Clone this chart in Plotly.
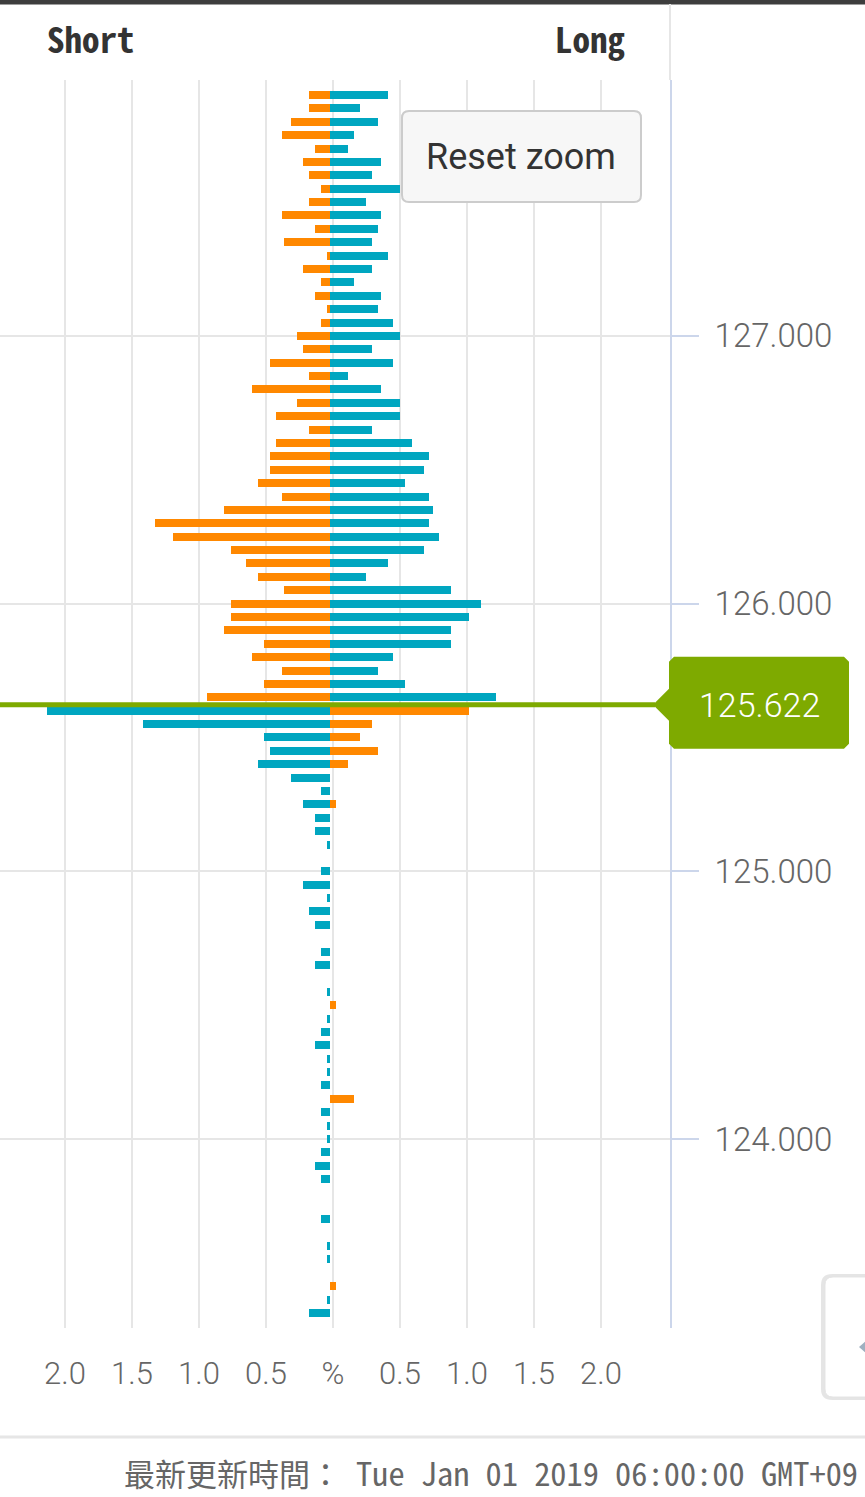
import plotly.graph_objects as go

# price levels (top to bottom) and the share of positions at each level, in %
prices = [127.90, 127.85, 127.80, 127.75, 127.70, 127.65, 127.60, 127.55, 127.50, 127.45,
          127.40, 127.35, 127.30, 127.25, 127.20, 127.15, 127.10, 127.05, 127.00, 126.95,
          126.90, 126.85, 126.80, 126.75, 126.70, 126.65, 126.60, 126.55, 126.50, 126.45,
          126.40, 126.35, 126.30, 126.25, 126.20, 126.15, 126.10, 126.05, 126.00, 125.95,
          125.90, 125.85, 125.80, 125.75, 125.70, 125.65, 125.60, 125.55, 125.50, 125.45,
          125.40, 125.35, 125.30, 125.25, 125.20, 125.15, 125.10, 125.05, 125.00, 124.95,
          124.90, 124.85, 124.80, 124.75, 124.70, 124.65, 124.60, 124.55, 124.50, 124.45,
          124.40, 124.35, 124.30, 124.25, 124.20, 124.15, 124.10, 124.05, 124.00, 123.95,
          123.90, 123.85, 123.80, 123.75, 123.70, 123.65, 123.60, 123.55, 123.50, 123.45,
          123.40, 123.35]

short_pct = [0.16, 0.16, 0.29, 0.36, 0.11, 0.20, 0.16, 0.07, 0.16, 0.36,
             0.11, 0.34, 0.02, 0.20, 0.07, 0.11, 0.02, 0.07, 0.25, 0.20,
             0.45, 0.16, 0.585, 0.25, 0.405, 0.16, 0.405, 0.45, 0.45, 0.54,
             0.36, 0.79, 1.305, 1.17, 0.74, 0.63, 0.54, 0.34, 0.74, 0.74,
             0.79, 0.495, 0.585, 0.36, 0.495, 0.92, 2.115, 1.395, 0.495, 0.45,
             0.54, 0.29, 0.07, 0.20, 0.11, 0.11, 0.02, 0.0, 0.07, 0.20,
             0.02, 0.16, 0.11, 0.0, 0.07, 0.11, 0.0, 0.02, 0.0, 0.02,
             0.07, 0.11, 0.02, 0.02, 0.07, 0.0, 0.07, 0.02, 0.02, 0.07,
             0.11, 0.07, 0.0, 0.0, 0.07, 0.0, 0.02, 0.02, 0.0, 0.0,
             0.02, 0.16]

long_pct = [0.43, 0.225, 0.36, 0.18, 0.135, 0.38, 0.315, 0.52, 0.27, 0.38,
            0.36, 0.315, 0.43, 0.315, 0.18, 0.38, 0.36, 0.47, 0.52, 0.315,
            0.47, 0.135, 0.38, 0.52, 0.52, 0.315, 0.61, 0.74, 0.70, 0.56,
            0.74, 0.765, 0.74, 0.81, 0.70, 0.43, 0.27, 0.90, 1.125, 1.035,
            0.90, 0.90, 0.47, 0.36, 0.56, 1.24, 1.035, 0.315, 0.225, 0.36,
            0.135, 0.0, 0.0, 0.045, 0.0, 0.0, 0.0, 0.0, 0.0, 0.0,
            0.0, 0.0, 0.0, 0.0, 0.0, 0.0, 0.0, 0.0, 0.045, 0.0,
            0.0, 0.0, 0.0, 0.0, 0.0, 0.18, 0.0, 0.0, 0.0, 0.0,
            0.0, 0.0, 0.0, 0.0, 0.0, 0.0, 0.0, 0.0, 0.0, 0.045,
            0.0, 0.0]

current_price = 125.622
x_ticks = [-2.0, -1.5, -1.0, -0.5, 0.0, 0.5, 1.0, 1.5, 2.0]
x_ticktext = ["2.0", "1.5", "1.0", "0.5", "%", "0.5", "1.0", "1.5", "2.0"]
y_ticks = [124, 125, 126, 127]
updated_label = "最新更新時間："
updated_time = "Tue Jan 01 2019 06:00:00 GMT+09"

ORANGE = "#ff8800"
TEAL = "#00a6c0"
GREEN = "#7eaa00"
GRID = "#e6e6e6"
AXIS = "#ccd6eb"
MONO = "Noto Sans Mono CJK TC, Noto Sans CJK TC, monospace"

W, H = 865, 1497
PL, PR, PT, PB = 0, 670, 80, 1328
YMIN, YMAX = 123.294, 127.956
PXU = 134.0  # px per 1 %


def px(x):
    return (x - PL) / (PR - PL)


def py(y):
    return (PB - y) / (PB - PT)


def rrect(x0, y0, x1, y1, r):
    pts = [("M", x0 + r, y0), ("L", x1 - r, y0), ("Q", x1, y0, x1, y0 + r),
           ("L", x1, y1 - r), ("Q", x1, y1, x1 - r, y1), ("L", x0 + r, y1),
           ("Q", x0, y1, x0, y1 - r), ("L", x0, y0 + r), ("Q", x0, y0, x0 + r, y0)]
    out = []
    for p in pts:
        cmd, vals = p[0], p[1:]
        coords = " ".join(f"{px(vals[i]):.5f},{py(vals[i + 1]):.5f}" for i in range(0, len(vals), 2))
        out.append(cmd + " " + coords)
    return " ".join(out) + " Z"


above = [p > current_price for p in prices]
left_colors = [ORANGE if a else TEAL for a in above]
right_colors = [TEAL if a else ORANGE for a in above]

fig = go.Figure()
fig.add_trace(go.Bar(y=prices, x=[-v for v in short_pct], orientation="h", width=0.03,
                     marker=dict(color=left_colors, line=dict(width=0)), name="Short",
                     showlegend=False))
fig.add_trace(go.Bar(y=prices, x=long_pct, orientation="h", width=0.03,
                     marker=dict(color=right_colors, line=dict(width=0)), name="Long",
                     showlegend=False))
# carrier for the grid / label axis
fig.add_trace(go.Scatter(x=[None], y=[None], xaxis="x2", showlegend=False, hoverinfo="skip"))

# pixel offset of the price label relative to the price line
ppu = (PB - PT) / (YMAX - YMIN)


def ylab(dy):
    return current_price - dy / ppu


lab = [(653, 0), (669, -16), (669, -43), (674, -48), (844, -48), (849, -43),
       (849, 39), (844, 44), (674, 44), (669, 39), (669, 16)]
lab_path = "M " + " L ".join(f"{px(x):.5f},{ylab(d):.5f}" for x, d in lab) + " Z"

shapes = [
    dict(type="rect", xref="paper", yref="paper", x0=px(0), x1=px(W), y0=py(0), y1=py(4.5),
         fillcolor="#3d3d3d", line=dict(width=0)),
    dict(type="line", xref="paper", yref="paper", x0=px(670), x1=px(670), y0=py(4), y1=py(80),
         line=dict(color=GRID, width=2)),
    dict(type="line", xref="paper", yref="paper", x0=px(0), x1=px(W), y0=py(1437), y1=py(1437),
         line=dict(color=GRID, width=3)),
    dict(type="path", xref="paper", yref="paper", path=rrect(402, 111, 641, 202, 7),
         fillcolor="#f7f7f7", line=dict(color="#cccccc", width=2)),
    dict(type="line", xref="paper", yref="y", x0=0, x1=px(655), y0=current_price, y1=current_price,
         line=dict(color=GREEN, width=5)),
    dict(type="path", xref="paper", yref="y", path=lab_path, fillcolor=GREEN, line=dict(width=0)),
    # side widget at the bottom right
    dict(type="path", xref="paper", yref="paper", path=rrect(823, 1276, 890, 1398, 9),
         fillcolor="rgba(0,0,0,0)", line=dict(color="rgba(0,0,0,0.10)", width=4)),
    dict(type="path", xref="paper", yref="paper", path=rrect(825, 1277, 890, 1397, 8),
         fillcolor="#ffffff", line=dict(color="#e4e4e4", width=1)),
    dict(type="path", xref="paper", yref="paper",
         path=f"M {px(859):.5f},{py(1347):.5f} L {px(866):.5f},{py(1341):.5f} L {px(866):.5f},{py(1353):.5f} Z",
         fillcolor="#9fb0c0", line=dict(width=0)),
]

annotations = [
    dict(text="<b>Short</b>", xref="paper", yref="paper", x=px(45), y=py(38), xanchor="left",
         yanchor="middle", showarrow=False, font=dict(family=MONO, size=35, color="#333333")),
    dict(text="<b>Long</b>", xref="paper", yref="paper", x=px(627), y=py(38), xanchor="right",
         yanchor="middle", showarrow=False, font=dict(family=MONO, size=35, color="#333333")),
    dict(text="Reset zoom", xref="paper", yref="paper", x=px(521), y=py(157), xanchor="center",
         yanchor="middle", showarrow=False, font=dict(family="Roboto", size=36, color="#333333")),
    dict(text=f"{current_price:.3f}", xref="paper", yref="y", x=px(759), y=current_price,
         xanchor="center", yanchor="middle", showarrow=False,
         font=dict(family="Roboto", size=34, color="#ffffff", weight=300)),
    dict(text=updated_label, xref="paper", yref="paper",
         x=px(122), y=py(H), xanchor="left", yanchor="bottom", showarrow=False,
         font=dict(family=MONO, size=31, color="#666666", weight=300)),
    dict(text=updated_time, xref="paper", yref="paper",
         x=px(354), y=py(H), xanchor="left", yanchor="bottom", showarrow=False,
         font=dict(family=MONO, size=32.4, color="#666666", weight=300)),
]

fig.update_layout(
    width=W, height=H, autosize=False,
    margin=dict(l=PL, r=W - PR, t=PT, b=H - PB, pad=0),
    paper_bgcolor="#ffffff", plot_bgcolor="#ffffff",
    barmode="relative", bargap=0,
    showlegend=False,
    xaxis=dict(range=[-330 / PXU, 340 / PXU], showgrid=False, zeroline=False,
               showticklabels=False, ticks="", showline=False, fixedrange=True),
    xaxis2=dict(range=[-333 / PXU, 337 / PXU], overlaying="x", anchor="y", side="bottom",
                tickvals=x_ticks, ticktext=x_ticktext, showgrid=True, gridcolor=GRID, gridwidth=2,
                zeroline=False, showline=False, ticks="", ticklabelstandoff=24,
                tickfont=dict(family="Roboto", size=31, color="#666666", weight=300),
                fixedrange=True),
    yaxis=dict(range=[YMIN, YMAX], side="right", tickvals=y_ticks, tickformat=".3f",
               ticks="outside", ticklen=27, tickwidth=2, tickcolor=AXIS,
               showline=True, linecolor=AXIS, linewidth=2,
               showgrid=True, gridcolor=GRID, gridwidth=2, zeroline=False,
               ticklabelstandoff=9,
               tickfont=dict(family="Roboto", size=33, color="#666666", weight=300),
               fixedrange=True),
    shapes=shapes,
    annotations=annotations,
)

fig.write_html("out.html", config={"displayModeBar": False},
               post_script="document.body.style.margin='0';document.body.style.overflow='hidden';")
